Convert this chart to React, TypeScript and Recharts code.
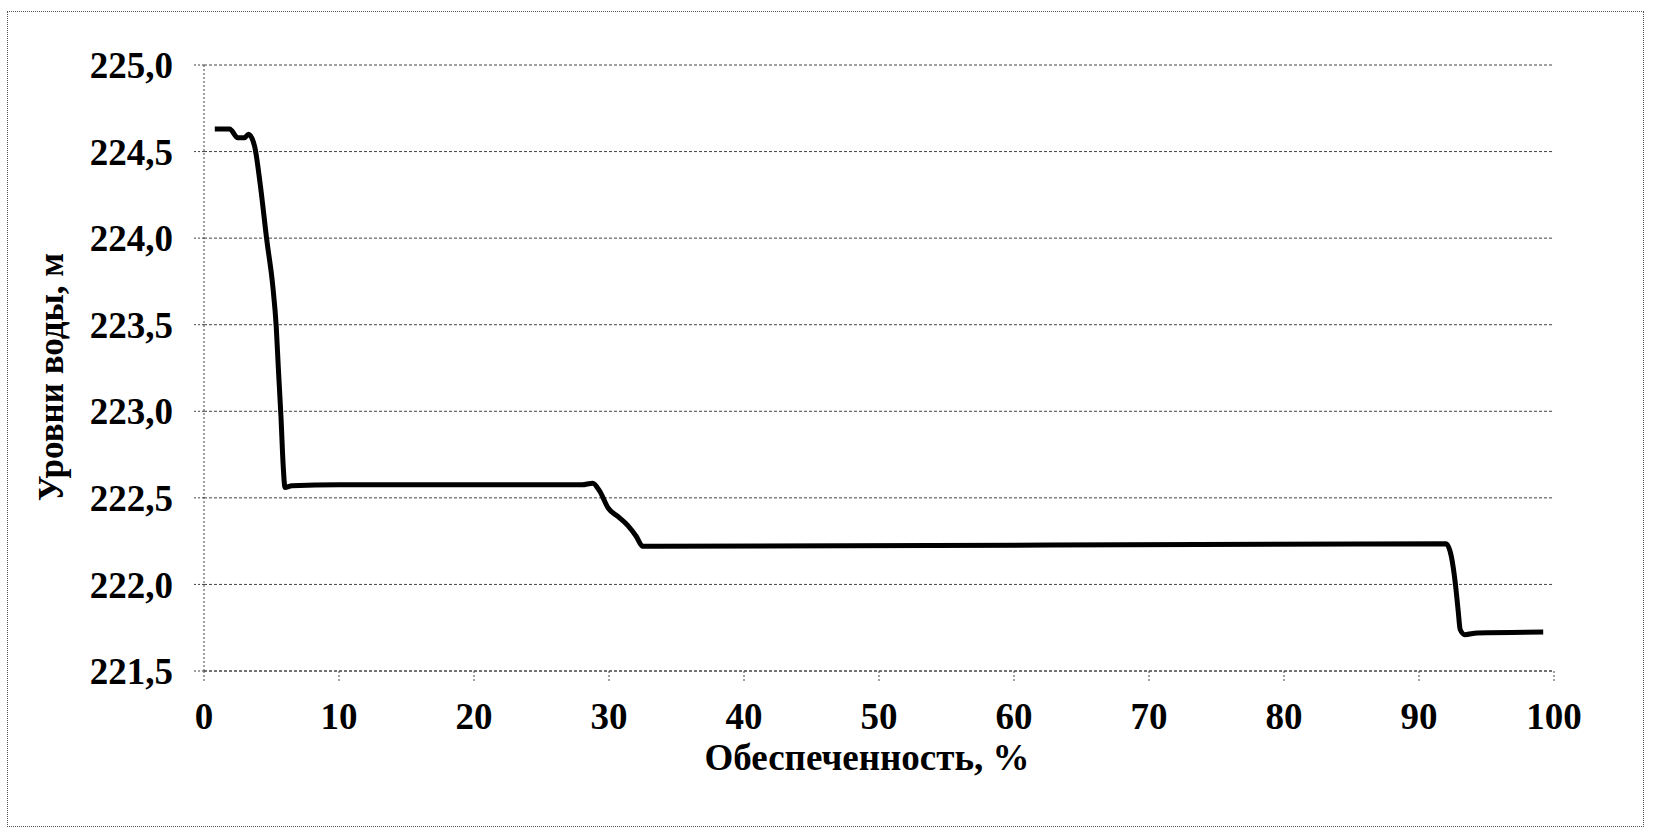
import { CartesianGrid, Label, Line, LineChart, XAxis, YAxis } from "recharts";

// exceedance probability, %
const exceedance = [
  0.8, 1.9, 2.5, 3.0, 3.3, 3.75, 4.15, 4.65, 5.1, 5.35, 5.5, 5.7, 5.87, 6.0, 6.5,
  10, 20, 28.0, 28.8, 29.3, 29.95, 30.7, 31.4, 32.0, 32.5, 33.5,
  92.0, 92.4, 92.7, 92.9, 93.05, 93.4, 94.3, 99.2
];

// water level, m
const waterLevel = [
  224.63, 224.63, 224.58, 224.58, 224.6, 224.53, 224.32, 223.99, 223.72, 223.49, 223.26, 222.97, 222.68, 222.56, 222.57,
  222.575, 222.575, 222.575, 222.585, 222.54, 222.44, 222.39, 222.34, 222.28, 222.22, 222.22,
  222.235, 222.16, 222.0, 221.85, 221.74, 221.71, 221.72, 221.725
];

const xTicks = [0, 10, 20, 30, 40, 50, 60, 70, 80, 90, 100];
const yTicks = [221.5, 222, 222.5, 223, 223.5, 224, 224.5, 225];

const chartData = exceedance.map((x, i) => ({ x, level: waterLevel[i] }));

const font = '"Liberation Serif", "Times New Roman", serif';
const gridColor = "#444";

const tickStyle = { fill: "#000", fontSize: 37, fontWeight: 700, fontFamily: font };

const formatLevel = (v: number) => v.toFixed(1).replace(".", ",");

function XTitle(props: any) {
  const vb = props.viewBox || { x: 204, y: 671, width: 1350, height: 167 };
  return (
    <text
      x={vb.x + vb.width / 2 - 12}
      y={vb.y + 99}
      textAnchor="middle"
      fill="#000"
      fontSize={37}
      fontWeight={700}
      fontFamily={font}
    >
      Обеспеченность, %
    </text>
  );
}

function YTitle(props: any) {
  const vb = props.viewBox || { x: 0, y: 65, width: 204, height: 606 };
  const cx = vb.x + 51;
  const cy = vb.y + vb.height / 2 + 9;
  return (
    <text
      x={cx}
      y={cy}
      transform={`rotate(-90 ${cx} ${cy})`}
      textAnchor="middle"
      dominantBaseline="central"
      fill="#000"
      fontSize={35}
      fontWeight={700}
      fontFamily={font}
    >
      Уровни воды, м
    </text>
  );
}

export default function App() {
  return (
    <div style={{ position: "absolute", left: 0, top: 0, width: 1654, height: 838, background: "#fff" }}>
      <div
        style={{
          position: "absolute",
          left: 7,
          top: 11,
          width: 1635,
          height: 814,
          border: "1px dotted #555"
        }}
      />
      <LineChart
        width={1654}
        height={838}
        data={chartData}
        margin={{ top: 65, right: 100, bottom: 0, left: 0 }}
        style={{ position: "absolute", left: 0, top: 0 }}
      >
        <CartesianGrid vertical={false} stroke={gridColor} strokeDasharray="3 2" />
        <XAxis
          dataKey="x"
          type="number"
          domain={[0, 100]}
          ticks={xTicks}
          interval={0}
          height={167}
          tickSize={10}
          tickMargin={22}
          axisLine={{ stroke: gridColor, strokeDasharray: "3 2" }}
          tickLine={{ stroke: gridColor, strokeDasharray: "2 2" }}
          tick={tickStyle}
        >
          <Label content={<XTitle />} />
        </XAxis>
        <YAxis
          type="number"
          domain={[221.5, 225]}
          ticks={yTicks}
          interval={0}
          width={204}
          tickSize={10}
          tickMargin={21}
          tickFormatter={formatLevel}
          axisLine={{ stroke: gridColor, strokeDasharray: "2 2" }}
          tickLine={{ stroke: gridColor, strokeDasharray: "2 2" }}
          tick={tickStyle}
        >
          <Label content={<YTitle />} />
        </YAxis>
        <Line
          dataKey="level"
          type="monotone"
          stroke="#000"
          strokeWidth={5}
          dot={false}
          isAnimationActive={false}
        />
      </LineChart>
    </div>
  );
}
